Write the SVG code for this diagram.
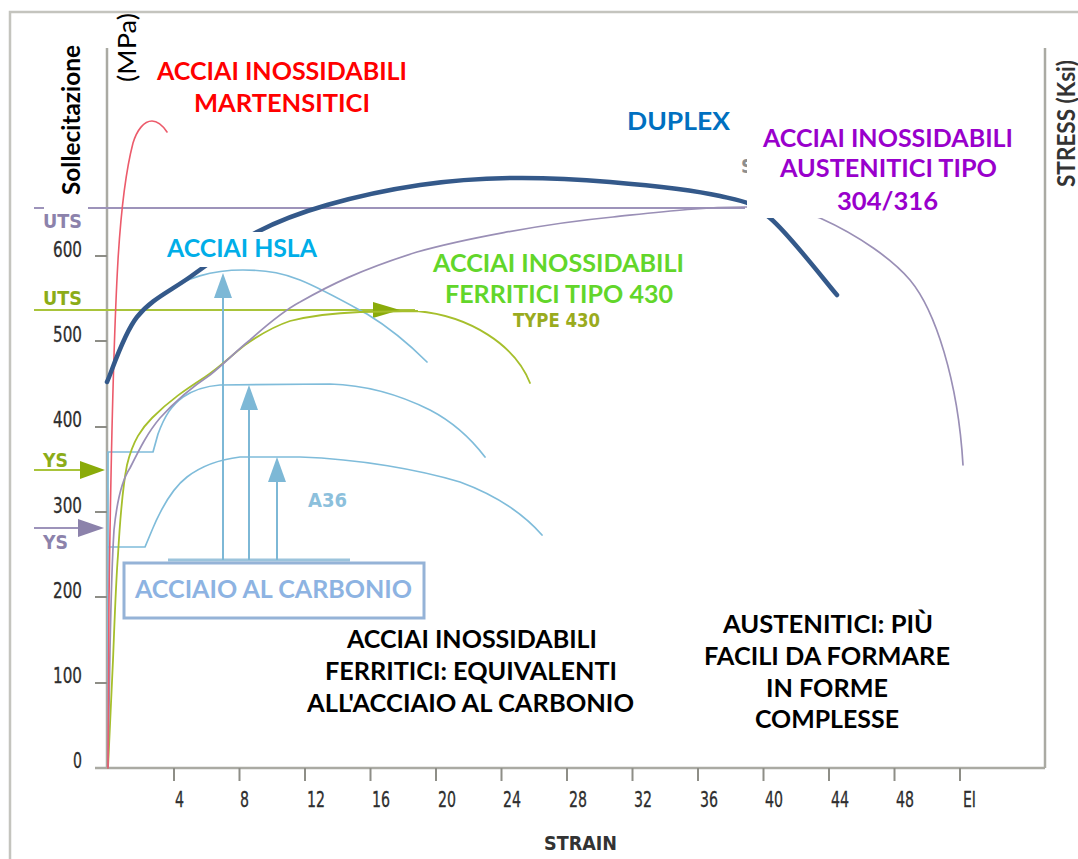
<svg xmlns="http://www.w3.org/2000/svg" width="1078" height="859" viewBox="0 0 1078 859">
<defs>
<style>
.frame{fill:none;stroke:#c4c4be;stroke-width:2.5}
.axis{fill:none;stroke:#aaaaa3;stroke-width:2.5}
.tick{stroke:#8e8e87;stroke-width:2}
.num{font-family:"DejaVu Sans Condensed","DejaVu Sans",sans-serif;font-size:21px;fill:#2e2e2e;stroke:#2e2e2e;stroke-width:0.3}
.cond{font-family:"DejaVu Sans Condensed","DejaVu Sans",sans-serif;font-weight:bold}
.lbl{font-family:Lato,"Open Sans",sans-serif;font-weight:bold;font-size:24px}
.curve{fill:none;stroke-linecap:round;stroke-linejoin:round}
.lb{stroke:#7fbcda;stroke-width:1.7}
.ol{stroke:#a6bf2c;stroke-width:1.8}
.pu{stroke:#9a8fb6;stroke-width:1.7}
.mask{fill:#ffffff;stroke:none}
.stem{stroke:#7db8d6;stroke-width:2}
.ahb{fill:#7db8d6}
.aho{fill:#8aab0a}
.ahp{fill:#8c82ab}
</style>
</defs>
<rect x="0" y="0" width="1078" height="859" fill="#ffffff"/>

<g id="frame">
<path class="frame" d="M10,859 L10,12 L1078,12"/>
<path class="axis" d="M107,48 L107,768 L1045,768 M1045,48 L1045,768 M95,768 L107,768"/>
</g>

<g id="y-axis">
<path class="tick" d="M95,683 H107 M95,597 H107 M95,512 H107 M95,427 H107 M95,341 H107 M95,256 H107"/>
<g class="num" text-anchor="end">
<text x="82" y="768" textLength="9" lengthAdjust="spacingAndGlyphs">0</text>
<text x="82" y="683" textLength="29" lengthAdjust="spacingAndGlyphs">100</text>
<text x="82" y="598" textLength="29" lengthAdjust="spacingAndGlyphs">200</text>
<text x="82" y="513" textLength="29" lengthAdjust="spacingAndGlyphs">300</text>
<text x="82" y="427" textLength="29" lengthAdjust="spacingAndGlyphs">400</text>
<text x="82" y="342" textLength="29" lengthAdjust="spacingAndGlyphs">500</text>
<text x="82" y="257" textLength="29" lengthAdjust="spacingAndGlyphs">600</text>
</g>
</g>

<g id="x-axis">
<path class="tick" d="M174,768 V781 M239.5,768 V781 M305,768 V781 M370.5,768 V781 M436,768 V781 M501.5,768 V781 M567,768 V781 M632.5,768 V781 M698,768 V781 M763.5,768 V781 M829,768 V781 M894.5,768 V781 M960,768 V781"/>
<g class="num">
<text x="175" y="807" textLength="9" lengthAdjust="spacingAndGlyphs">4</text>
<text x="240" y="807" textLength="9" lengthAdjust="spacingAndGlyphs">8</text>
<text x="307" y="807" textLength="18" lengthAdjust="spacingAndGlyphs">12</text>
<text x="372" y="807" textLength="18" lengthAdjust="spacingAndGlyphs">16</text>
<text x="438" y="807" textLength="18" lengthAdjust="spacingAndGlyphs">20</text>
<text x="503" y="807" textLength="18" lengthAdjust="spacingAndGlyphs">24</text>
<text x="569" y="807" textLength="18" lengthAdjust="spacingAndGlyphs">28</text>
<text x="634" y="807" textLength="18" lengthAdjust="spacingAndGlyphs">32</text>
<text x="700" y="807" textLength="18" lengthAdjust="spacingAndGlyphs">36</text>
<text x="765" y="807" textLength="18" lengthAdjust="spacingAndGlyphs">40</text>
<text x="831" y="807" textLength="18" lengthAdjust="spacingAndGlyphs">44</text>
<text x="896" y="807" textLength="18" lengthAdjust="spacingAndGlyphs">48</text>
<text x="963" y="807" textLength="13" lengthAdjust="spacingAndGlyphs">EI</text>
</g>
<text class="cond" x="544" y="850" font-size="20" fill="#333333" textLength="73" lengthAdjust="spacingAndGlyphs">STRAIN</text>
</g>

<g id="reference-lines">
<line x1="34" y1="208" x2="745" y2="208" stroke="#9d93ba" stroke-width="1.8"/>
<line x1="34" y1="310" x2="415" y2="310" stroke="#a9c43a" stroke-width="2.2"/>
<polygon class="aho" points="373,302 373,318 400,310"/>
<line x1="34" y1="470" x2="82" y2="470" stroke="#a9c43a" stroke-width="2"/>
<polygon class="aho" points="80,461 80,479 105,470"/>
<line x1="34" y1="528" x2="80" y2="528" stroke="#9d93ba" stroke-width="2"/>
<polygon class="ahp" points="78,519 78,537 104,528"/>
</g>

<g id="carbon-curves">
<path class="curve lb" d="M108,768 L108,452 L153,452 L158,434 C165,415 172,405 183,397 C195,389 207,386 220,385 L330,384 C365,385 400,395 430,410 C455,423 472,440 485,457"/>
<path class="curve lb" d="M108,547 L145,547 L150,535 C158,515 170,490 187,477 C200,467 215,460 240,457 L300,457 C360,459 420,470 460,482 C490,493 520,510 542,535"/>
<path class="curve lb" d="M170,290 C185,279 210,270 243,270 C270,270 285,274 300,280 C320,288 345,302 367,314 C390,328 410,345 427,362"/>
<line x1="168" y1="560" x2="350" y2="560" stroke="#9cc4dc" stroke-width="3"/>
<line class="stem" x1="223" y1="560" x2="223" y2="296"/>
<polygon class="ahb" points="214,298 232,298 223,273"/>
<line class="stem" x1="249" y1="560" x2="249" y2="408"/>
<polygon class="ahb" points="240,410 258,410 249,385"/>
<line class="stem" x1="277" y1="560" x2="277" y2="480"/>
<polygon class="ahb" points="268,482 286,482 277,457"/>
<text class="cond" x="308" y="507" font-size="19" fill="#8cc0dc" textLength="39" lengthAdjust="spacingAndGlyphs">A36</text>
</g>

<g id="ferritic-curve">
<path class="curve ol" d="M108,768 L113,660 C115,610 116,580 118,555 C120,520 122,490 127,465 C133,440 142,428 152,418 C170,400 185,390 205,377 C220,367 232,355 245,345 C262,333 275,326 290,321 C310,316 335,313 360,312 L417,311 C470,316 515,345 530,383"/>
<text class="cond" x="513" y="327" font-size="20" fill="#9aab1e" textLength="87" lengthAdjust="spacingAndGlyphs">TYPE 430</text>
</g>

<g id="austenitic-curve">
<path class="curve pu" d="M108,768 L110,650 C111,600 112,560 114,530 C117,500 122,480 130,468 C140,448 148,432 160,418 C178,398 195,385 210,375 C225,363 235,352 250,340 C270,322 285,310 300,302 C330,285 360,270 417,252 C460,240 540,224 613,217 C660,212 700,207 745,207 C780,207 800,211 820,218 C860,236 893,260 910,280 C935,310 958,380 963,465"/>
<text class="cond" x="741" y="173" font-size="20" fill="#8e8e8e">S</text>
</g>

<g id="martensitic-curve">
<path class="curve" stroke="#ec5b6b" stroke-width="1.6" d="M108,768 L109,600 C111,450 114,330 118,260 C121,210 126,170 133,143 C137,130 144,121 152,121 C158,121 163,126 167,132"/>
</g>

<g id="duplex-curve">
<path class="curve" stroke="#34598a" stroke-width="4.5" d="M107,382 C112,371 123.2,334.5 137,317 C150.8,299.5 170,291.2 190,277 C210,262.8 234.2,244 257,232 C279.8,220 299.8,212.8 327,205 C354.2,197.2 389.5,189.5 420,185 C450.5,180.5 478.3,178.5 510,178 C541.7,177.5 575,179 610,182 C645,185 693.3,190 720,196 C746.7,202 750.5,201.5 770,218 C789.5,234.5 825.8,282.2 837,295"/>
</g>

<g id="label-masks">
<rect class="mask" x="44" y="40" width="44" height="172"/>
<rect class="mask" x="162" y="232" width="158" height="35"/>
<rect class="mask" x="418" y="253" width="272" height="58"/>
<rect class="mask" x="747" y="118" width="268" height="100"/>
</g>

<g id="axis-labels">
<text class="lbl" transform="translate(80,195) rotate(-90)" font-size="23" fill="#000000" textLength="150" lengthAdjust="spacingAndGlyphs">Sollecitazione</text>
<text transform="translate(136,82) rotate(-90)" font-family="Lato,'Open Sans',sans-serif" font-size="25" fill="#000000" textLength="69" lengthAdjust="spacingAndGlyphs">(MPa)</text>
<text class="lbl" transform="translate(1075,187) rotate(-90)" font-size="19" fill="#333333" textLength="127" lengthAdjust="spacingAndGlyphs">STRESS (Ksi)</text>
<text class="cond" x="43" y="228" font-size="20" fill="#8c82ab" textLength="39" lengthAdjust="spacingAndGlyphs">UTS</text>
<text class="cond" x="43" y="305" font-size="20" fill="#8cac18" textLength="39" lengthAdjust="spacingAndGlyphs">UTS</text>
<text class="cond" x="43" y="467" font-size="20" fill="#8cac18" textLength="25" lengthAdjust="spacingAndGlyphs">YS</text>
<text class="cond" x="43" y="549" font-size="20" fill="#8c82ab" textLength="25" lengthAdjust="spacingAndGlyphs">YS</text>
</g>

<g id="label-martensitici" class="lbl" fill="#ff0000">
<text x="157" y="80" textLength="250" lengthAdjust="spacingAndGlyphs">ACCIAI INOSSIDABILI</text>
<text x="194" y="112" textLength="176" lengthAdjust="spacingAndGlyphs">MARTENSITICI</text>
</g>

<g id="label-duplex" class="lbl" fill="#0070c0">
<text x="627" y="130" textLength="103" lengthAdjust="spacingAndGlyphs">DUPLEX</text>
</g>

<g id="label-austenitici" class="lbl" fill="#9900cc">
<text x="763" y="147" textLength="250" lengthAdjust="spacingAndGlyphs">ACCIAI INOSSIDABILI</text>
<text x="780" y="177" textLength="217" lengthAdjust="spacingAndGlyphs">AUSTENITICI TIPO</text>
<text x="837" y="210" textLength="101" lengthAdjust="spacingAndGlyphs">304/316</text>
</g>

<g id="label-hsla" class="lbl" fill="#00aee8">
<text x="167" y="257" textLength="150" lengthAdjust="spacingAndGlyphs">ACCIAI HSLA</text>
</g>

<g id="label-ferritici" class="lbl" fill="#62d62a">
<text x="433" y="272" textLength="251" lengthAdjust="spacingAndGlyphs">ACCIAI INOSSIDABILI</text>
<text x="445" y="303" textLength="228" lengthAdjust="spacingAndGlyphs">FERRITICI TIPO 430</text>
</g>

<g id="label-carbonio">
<rect x="124" y="563" width="300" height="55" fill="#ffffff" stroke="#95b3d7" stroke-width="3"/>
<text class="lbl" x="135" y="598" fill="#8db3e2" textLength="277" lengthAdjust="spacingAndGlyphs">ACCIAIO AL CARBONIO</text>
</g>

<g id="note-ferritici" class="lbl" fill="#000000">
<text x="347" y="648" textLength="250" lengthAdjust="spacingAndGlyphs">ACCIAI INOSSIDABILI</text>
<text x="325" y="680" textLength="292" lengthAdjust="spacingAndGlyphs">FERRITICI: EQUIVALENTI</text>
<text x="307" y="712" textLength="327" lengthAdjust="spacingAndGlyphs">ALL'ACCIAIO AL CARBONIO</text>
</g>

<g id="note-austenitici" class="lbl" fill="#000000">
<text x="723" y="633" textLength="210" lengthAdjust="spacingAndGlyphs">AUSTENITICI: PIÙ</text>
<text x="704" y="665" textLength="246" lengthAdjust="spacingAndGlyphs">FACILI DA FORMARE</text>
<text x="766" y="697" textLength="122" lengthAdjust="spacingAndGlyphs">IN FORME</text>
<text x="755" y="728" textLength="144" lengthAdjust="spacingAndGlyphs">COMPLESSE</text>
</g>
</svg>
